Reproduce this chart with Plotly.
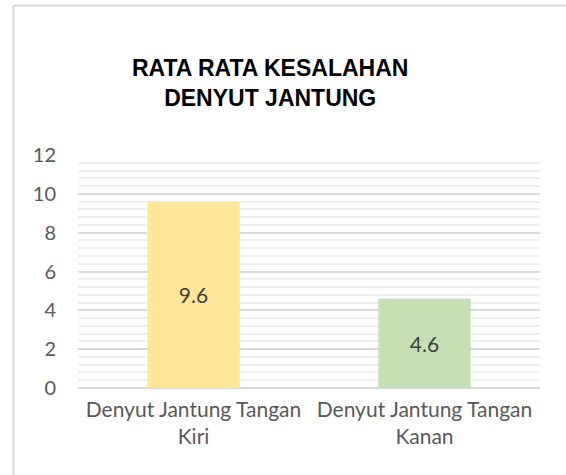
import plotly.graph_objects as go

categories = ["Denyut Jantung Tangan<br>Kiri", "Denyut Jantung Tangan<br>Kanan"]
values = [9.6, 4.6]
bar_colors = ["#FFE699", "#C5E0B4"]
title_lines = ["RATA RATA KESALAHAN", "DENYUT JANTUNG"]

W, H = 566, 475
L, R, T, B = 78, 26, 155, 87
pw, ph = W - L - R, H - T - B

def px_x(p):
    return (p - L) / pw

def px_y(p):
    return (H - B - p) / ph

FONT = "Lato, Carlito, sans-serif"

fig = go.Figure(go.Bar(
    x=categories, y=values,
    marker=dict(color=bar_colors, line=dict(width=0)),
    width=0.4,
    text=[str(v) for v in values],
    textposition="inside", insidetextanchor="middle",
    textfont=dict(family=FONT, size=21, color="#404040"),
    cliponaxis=False,
))

fig.update_layout(
    width=W, height=H,
    margin=dict(l=L, r=R, t=T, b=B, autoexpand=False),
    paper_bgcolor="white", plot_bgcolor="white",
    showlegend=False,
    xaxis=dict(showgrid=False, showline=False, ticks="", tickangle=0,
               ticklabelstandoff=7,
               tickfont=dict(family=FONT, size=21, color="#595959")),
    yaxis=dict(range=[0, 12], dtick=2, tick0=0, showline=False, ticks="",
               gridcolor="#D9D9D9", gridwidth=1.5, zeroline=True, zerolinecolor="#D9D9D9", zerolinewidth=1.5,
               minor=dict(dtick=0.4, showgrid=True, gridcolor="#F0F0F0", gridwidth=1.5),
               ticklabelstandoff=21,
               tickfont=dict(family=FONT, size=20, color="#595959")),
)

fig.add_annotation(text="<b>" + "<br>".join(title_lines) + "</b>", xref="paper", yref="paper",
                   x=px_x(270), y=px_y(83), xanchor="center", yanchor="middle",
                   showarrow=False, align="center",
                   font=dict(family="Liberation Sans, Arial, sans-serif", size=23, color="#000000"))

# chart area border (top and left edges visible)
fig.add_shape(type="line", xref="paper", yref="paper",
              x0=px_x(13.5), x1=px_x(W + 5), y0=px_y(5.5), y1=px_y(5.5),
              line=dict(color="#D9D9D9", width=2))
fig.add_shape(type="line", xref="paper", yref="paper",
              x0=px_x(13.5), x1=px_x(13.5), y0=px_y(5.5), y1=px_y(H + 5),
              line=dict(color="#D9D9D9", width=2))

fig.write_html("out.html", config={"displayModeBar": False},
               post_script="document.body.style.margin='0';document.body.style.overflow='hidden';")
